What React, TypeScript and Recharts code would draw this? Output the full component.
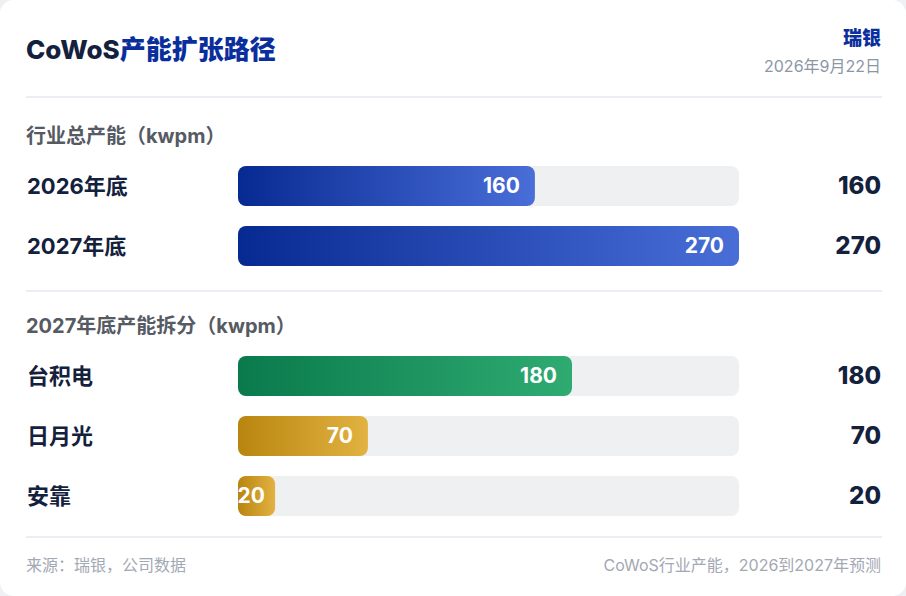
import React from 'react'
import { BarChart, Bar, XAxis, YAxis, LabelList } from 'recharts'

const totalLabels = ['2026年底', '2027年底']
const totalValues = [160, 270]
const splitLabels = ['台积电', '日月光', '安靠']
const splitValues = [180, 70, 20]
const MAX = 270

const FONT = 'Inter, "Noto Sans CJK SC", "Noto Sans", sans-serif'
const CHART_W = 856
const Y_W = 212
const M_RIGHT = 143
const ROW = 60

const totalData = totalLabels.map((name, i) => ({ name, value: totalValues[i], fill: 'url(#gBlue)' }))
const splitData = splitLabels.map((name, i) => ({
  name,
  value: splitValues[i],
  fill: i === 0 ? 'url(#gGreen)' : 'url(#gGold)',
}))

function LeftTick(props: any) {
  const { y, payload } = props
  return (
    <text x={1} y={y} dy={8} textAnchor="start" fontSize={22} fontWeight={700} fill="#14213d" fontFamily={FONT}>
      {payload.value}
    </text>
  )
}

function InsideLabel(props: any) {
  const { x, y, width, height, value } = props
  // keep short labels from spilling out past the bar's left edge
  const textW = String(value).length * 13 + 1
  const end = Math.max(x + width - 15, x + textW)
  return (
    <text x={end} y={y + height / 2} dy={7} textAnchor="end" fontSize={21} fontWeight={700} fill="#fff" fontFamily={FONT}>
      {value}
    </text>
  )
}

function RightLabel(props: any) {
  const { y, height, value } = props
  return (
    <text x={CHART_W - 1} y={y + height / 2} dy={8} textAnchor="end" fontSize={24} fontWeight={800} fill="#14213d" fontFamily={FONT}>
      {value}
    </text>
  )
}

function Gradients() {
  return (
    <defs>
      <linearGradient id="gBlue" x1="0" y1="0" x2="1" y2="0">
        <stop offset="0%" stopColor="#072a92" />
        <stop offset="100%" stopColor="#4a6ed8" />
      </linearGradient>
      <linearGradient id="gGreen" x1="0" y1="0" x2="1" y2="0">
        <stop offset="0%" stopColor="#0a7a4c" />
        <stop offset="100%" stopColor="#2fab72" />
      </linearGradient>
      <linearGradient id="gGold" x1="0" y1="0" x2="1" y2="0">
        <stop offset="0%" stopColor="#b8860f" />
        <stop offset="100%" stopColor="#e2b242" />
      </linearGradient>
    </defs>
  )
}

function Rows({ data }: { data: any[] }) {
  return (
    <BarChart
      width={CHART_W}
      height={data.length * ROW}
      data={data}
      layout="vertical"
      margin={{ top: 0, right: M_RIGHT, left: 0, bottom: 0 }}
      barCategoryGap={10}
    >
      <Gradients />
      <XAxis type="number" domain={[0, MAX]} hide />
      <YAxis type="category" dataKey="name" width={Y_W} axisLine={false} tickLine={false} tick={<LeftTick />} />
      <Bar dataKey="value" radius={8} background={{ fill: '#eff0f2', radius: 8 }} isAnimationActive={false}>
        <LabelList dataKey="value" content={<InsideLabel />} />
        <LabelList dataKey="value" content={<RightLabel />} />
      </Bar>
    </BarChart>
  )
}

const sectionStyle: React.CSSProperties = {
  fontSize: 20,
  fontWeight: 700,
  color: '#555a63',
  height: 24,
  lineHeight: '24px',
}

const rule: React.CSSProperties = { height: 2, background: '#eceef3', width: 856 }

export default function App() {
  return (
    <div style={{ position: 'fixed', inset: 0, background: '#eef0f3', fontFamily: FONT }}>
      <div
        style={{
          position: 'absolute',
          left: 0,
          top: 0,
          width: 906,
          height: 596,
          background: '#fff',
          borderRadius: 14,
          boxSizing: 'border-box',
          padding: '0 25px 0 26px',
        }}
      >
        <div style={{ display: 'flex', justifyContent: 'space-between', height: 96 }}>
          <div style={{ marginTop: 35, fontSize: 26, fontWeight: 800, color: '#14213d', lineHeight: '30px' }}>
            CoWoS<span style={{ color: '#0a2f9c' }}>产能扩张路径</span>
          </div>
          <div style={{ textAlign: 'right', marginTop: 28 }}>
            <div style={{ fontSize: 19, fontWeight: 800, color: '#0a2f9c', lineHeight: '22px' }}>瑞银</div>
            <div style={{ fontSize: 16, color: '#8d96a7', lineHeight: '20px', marginTop: 6 }}>2026年9月22日</div>
          </div>
        </div>
        <div style={rule} />
        <div style={{ ...sectionStyle, marginTop: 26 }}>行业总产能（kwpm）</div>
        <div style={{ marginTop: 8 }}>
          <Rows data={totalData} />
        </div>
        <div style={{ ...rule, marginTop: 14 }} />
        <div style={{ ...sectionStyle, marginTop: 22 }}>2027年底产能拆分（kwpm）</div>
        <div style={{ marginTop: 8 }}>
          <Rows data={splitData} />
        </div>
        <div style={{ ...rule, marginTop: 10 }} />
        <div
          style={{
            display: 'flex',
            justifyContent: 'space-between',
            marginTop: 17,
            fontSize: 16,
            color: '#a2a8b4',
            lineHeight: '20px',
          }}
        >
          <span>来源：瑞银，公司数据</span>
          <span>CoWoS行业产能，2026到2027年预测</span>
        </div>
      </div>
    </div>
  )
}
